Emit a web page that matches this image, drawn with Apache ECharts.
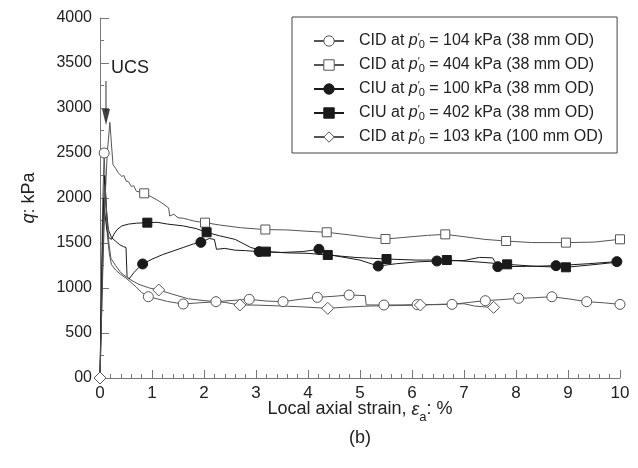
<!DOCTYPE html>
<html>
<head>
<meta charset="utf-8">
<script src="https://cdn.jsdelivr.net/npm/echarts@6/dist/echarts.min.js"></script>
<style>
  html, body { margin: 0; padding: 0; background: #fff; }
  #chart { width: 638px; height: 468px; }
</style>
</head>
<body>
<div id="chart"></div>
<script>
// Deviator stress q (kPa) against local axial strain (%)
const seriesNames = [
  'CID at p′0 = 104 kPa (38 mm OD)',
  'CID at p′0 = 404 kPa (38 mm OD)',
  'CIU at p′0 = 100 kPa (38 mm OD)',
  'CIU at p′0 = 402 kPa (38 mm OD)',
  'CID at p′0 = 103 kPa (100 mm OD)'
];

// CID, p'0 = 104 kPa, 38 mm
const cid104Line = [[0,0],[0.02,800],[0.05,1900],[0.08,2500],[0.11,2000],[0.14,1600],[0.18,1380],[0.22,1260],[0.3,1200],[0.4,1150],[0.5,1110],[0.6,1060],[0.7,1010],[0.8,950],[0.93,903],[1.1,880],[1.3,850],[1.6,822],[1.9,835],[2.23,848],[2.5,860],[2.87,874],[3.2,855],[3.52,848],[3.85,875],[4.18,896],[4.5,908],[4.79,922],[5.0,918],[5.1,915],[5.12,812],[5.46,811],[5.8,812],[6.1,815],[6.45,815],[6.77,818],[7.1,840],[7.41,859],[7.75,872],[8.05,885],[8.35,892],[8.69,903],[9.0,880],[9.36,848],[9.7,835],[10,818]];
const cid104Marks = [[0.08,2500],[0.93,903],[1.6,822],[2.23,848],[2.87,874],[3.52,848],[4.18,896],[4.79,922],[5.46,811],[6.1,815],[6.77,818],[7.41,859],[8.05,885],[8.69,903],[9.36,848],[10,818]];

// CID, p'0 = 404 kPa, 38 mm
const cid404Line = [[0,0],[0.04,900],[0.09,1900],[0.14,2500],[0.19,2840],[0.22,2600],[0.25,2370],[0.3,2330],[0.35,2280],[0.38,2290],[0.42,2240],[0.46,2250],[0.5,2190],[0.55,2180],[0.6,2130],[0.65,2135],[0.7,2075],[0.78,2065],[0.85,2052],[1.0,2010],[1.15,1960],[1.25,1920],[1.32,1890],[1.34,1800],[1.42,1820],[1.5,1780],[1.6,1775],[1.7,1760],[1.8,1745],[1.9,1735],[2.02,1726],[2.3,1700],[2.7,1670],[3.15,1650],[3.6,1645],[4.0,1630],[4.36,1619],[4.8,1590],[5.2,1560],[5.49,1544],[6.0,1570],[6.3,1585],[6.64,1596],[7.0,1570],[7.4,1540],[7.81,1522],[8.3,1505],[8.96,1504],[9.5,1510],[10,1541]];
const cid404Marks = [[0.85,2052],[2.02,1726],[3.18,1650],[4.36,1619],[5.49,1544],[6.64,1596],[7.81,1522],[8.96,1504],[10,1541]];

// CIU, p'0 = 100 kPa, 38 mm
const ciu100Line = [[0,0],[0.03,900],[0.06,1700],[0.09,2250],[0.12,1900],[0.16,1650],[0.22,1560],[0.3,1520],[0.38,1480],[0.45,1460],[0.5,1450],[0.52,1130],[0.56,1100],[0.65,1170],[0.75,1230],[0.82,1267],[1.0,1320],[1.2,1370],[1.4,1410],[1.6,1450],[1.8,1490],[1.94,1507],[2.1,1550],[2.2,1540],[2.24,1430],[2.4,1440],[2.6,1420],[2.8,1415],[3.06,1404],[3.5,1395],[3.9,1405],[4.21,1430],[4.5,1360],[5.0,1310],[5.35,1244],[5.7,1270],[6.1,1290],[6.48,1300],[7.0,1305],[7.3,1340],[7.55,1335],[7.65,1237],[8.2,1240],[8.77,1248],[9.4,1270],[9.94,1293],[10,1300]];
const ciu100Marks = [[0.82,1267],[1.94,1507],[3.06,1404],[4.21,1430],[5.35,1244],[6.48,1300],[7.65,1237],[8.77,1248],[9.94,1293]];

// CIU, p'0 = 402 kPa, 38 mm
const ciu402Line = [[0,0],[0.02,700],[0.05,1500],[0.07,2000],[0.1,1800],[0.13,1650],[0.17,1560],[0.22,1540],[0.27,1600],[0.33,1650],[0.42,1690],[0.55,1710],[0.7,1720],[0.91,1726],[1.1,1730],[1.3,1710],[1.6,1690],[1.85,1660],[2.05,1619],[2.3,1580],[2.6,1540],[2.9,1450],[3.19,1404],[3.6,1390],[4.0,1385],[4.38,1367],[4.9,1340],[5.51,1322],[6.1,1310],[6.67,1311],[7.25,1290],[7.83,1263],[8.4,1240],[8.96,1230],[9.5,1260],[10,1290]];
const ciu402Marks = [[0.91,1726],[2.05,1619],[3.19,1404],[4.38,1367],[5.51,1322],[6.67,1311],[7.83,1263],[8.96,1230]];

// CID, p'0 = 103 kPa, 100 mm
const cid103Line = [[0,0],[0.03,700],[0.06,1500],[0.1,2150],[0.13,1800],[0.17,1500],[0.21,1330],[0.3,1250],[0.4,1170],[0.56,1100],[0.75,1040],[0.95,1000],[1.13,978],[1.4,930],[1.7,880],[2.0,860],[2.4,840],[2.69,811],[3.0,810],[3.5,800],[3.9,790],[4.38,774],[4.8,790],[5.2,800],[5.7,805],[6.16,811],[6.6,820],[7.0,825],[7.2,800],[7.4,790],[7.57,785]];
const cid103Marks = [[0,0],[1.13,978],[2.69,811],[4.38,774],[6.16,811],[7.57,785]];

// UCS arrow: shaft and head
const ucsShaft = [[0.115,3300],[0.115,2960]];
const ucsHead = [[0.115,2900]];

const FONT = '"Liberation Sans", Arial, Helvetica, sans-serif';
const GREY = '#555';
const DARK = '#1a1a1a';

const styles = [
  { line: cid104Line, marks: cid104Marks, symbol: 'circle', size: 10, color: GREY, fill: '#fff' },
  { line: cid404Line, marks: cid404Marks, symbol: 'rect', size: 9, color: GREY, fill: '#fff' },
  { line: ciu100Line, marks: ciu100Marks, symbol: 'circle', size: 10, color: DARK, fill: DARK },
  { line: ciu402Line, marks: ciu402Marks, symbol: 'rect', size: 9, color: DARK, fill: DARK },
  { line: cid103Line, marks: cid103Marks, symbol: 'diamond', size: 12, color: GREY, fill: '#fff' }
];

const series = [];
styles.forEach((s, i) => {
  series.push({
    name: seriesNames[i],
    type: 'line',
    data: s.line,
    symbol: s.symbol,
    symbolSize: s.size,
    showSymbol: false,
    itemStyle: { color: s.fill, borderColor: s.color, borderWidth: 1 },
    lineStyle: { color: s.color, width: 1 },
    silent: true,
    z: 2
  });
});
styles.forEach((s, i) => {
  series.push({
    type: 'scatter',
    data: s.marks,
    symbol: s.symbol,
    symbolSize: s.size,
    itemStyle: { color: s.fill, borderColor: s.color, borderWidth: 1, opacity: 1 },
    silent: true,
    z: 3
  });
});
series.push({
  type: 'line',
  data: ucsShaft,
  showSymbol: false,
  lineStyle: { color: '#333', width: 1 },
  silent: true,
  z: 4
});
series.push({
  type: 'scatter',
  data: ucsHead,
  symbol: 'triangle',
  symbolRotate: 180,
  symbolSize: [8, 16],
  itemStyle: { color: '#111' },
  silent: true,
  z: 4
});

const richText = {
  i: { fontStyle: 'italic', fontSize: 16, fontFamily: FONT, color: '#222' },
  sup: { fontSize: 11, fontFamily: FONT, color: '#222', verticalAlign: 'top', width: 1, lineHeight: 12 },
  sub: { fontSize: 11, fontFamily: FONT, color: '#222', verticalAlign: 'bottom', lineHeight: 10 }
};

const chart = echarts.init(document.getElementById('chart'), null, { renderer: 'canvas' });
chart.setOption({
  animation: false,
  backgroundColor: '#fff',
  grid: { left: 100, right: 18, top: 18, bottom: 90, containLabel: false },
  legend: {
    data: seriesNames,
    orient: 'vertical',
    left: 292,
    top: 17,
    padding: [15, 14, 7, 21],
    itemGap: 6,
    itemWidth: 30,
    itemHeight: 13,
    borderColor: '#444',
    borderWidth: 1,
    selectedMode: false,
    itemStyle: { borderWidth: 1 },
    formatter: name => name.replace('p′0', '{i|p}{sup|′}{sub|0}'),
    textStyle: {
      fontSize: 16,
      fontFamily: FONT,
      color: '#222',
      lineHeight: 18,
      padding: [0, 0, 0, 10],
      rich: richText
    }
  },
  graphic: [{
    type: 'text',
    left: 111,
    top: 59,
    style: { text: 'UCS', fontSize: 18, fontFamily: FONT, fill: '#222' },
    silent: true
  }],
  xAxis: {
    type: 'value',
    min: 0,
    max: 10,
    interval: 1,
    name: 'Local axial strain, {i|ε}{sub|a}: %\n(b)',
    nameLocation: 'middle',
    nameGap: 17,
    nameMoveOverlap: false,
    nameTextStyle: {
      fontSize: 18, fontFamily: FONT, color: '#222', lineHeight: 29, align: 'center',
      rich: {
        i: { fontStyle: 'italic', fontSize: 18, fontFamily: FONT, color: '#222' },
        sub: { fontSize: 13, fontFamily: FONT, color: '#222', verticalAlign: 'bottom', lineHeight: 19 }
      }
    },
    axisLine: { show: true, onZero: false, lineStyle: { color: '#777', width: 1 } },
    axisTick: { show: true, inside: true, length: 8, lineStyle: { color: '#777' } },
    minorTick: { show: true, splitNumber: 5, length: 4, lineStyle: { color: '#777' } },
    axisLabel: { fontSize: 17, fontFamily: FONT, color: '#222', margin: 7 },
    splitLine: { show: false }
  },
  yAxis: {
    type: 'value',
    min: 0,
    max: 4000,
    interval: 500,
    name: '{i|q}: kPa',
    nameLocation: 'middle',
    nameGap: 62,
    nameRotate: 90,
    nameMoveOverlap: false,
    nameTextStyle: {
      fontSize: 18, fontFamily: FONT, color: '#222',
      rich: { i: { fontStyle: 'italic', fontSize: 18, fontFamily: FONT, color: '#222' } }
    },
    axisLine: { show: true, onZero: false, lineStyle: { color: '#777', width: 1 } },
    axisTick: { show: true, inside: true, length: 9, lineStyle: { color: '#777' } },
    minorTick: { show: true, splitNumber: 2, length: 4, lineStyle: { color: '#777' } },
    axisLabel: {
      fontSize: 16, fontFamily: FONT, color: '#222', margin: 8,
      formatter: v => (v === 0 ? '00' : String(v))
    },
    splitLine: { show: false }
  },
  series: series
});
</script>
</body>
</html>
